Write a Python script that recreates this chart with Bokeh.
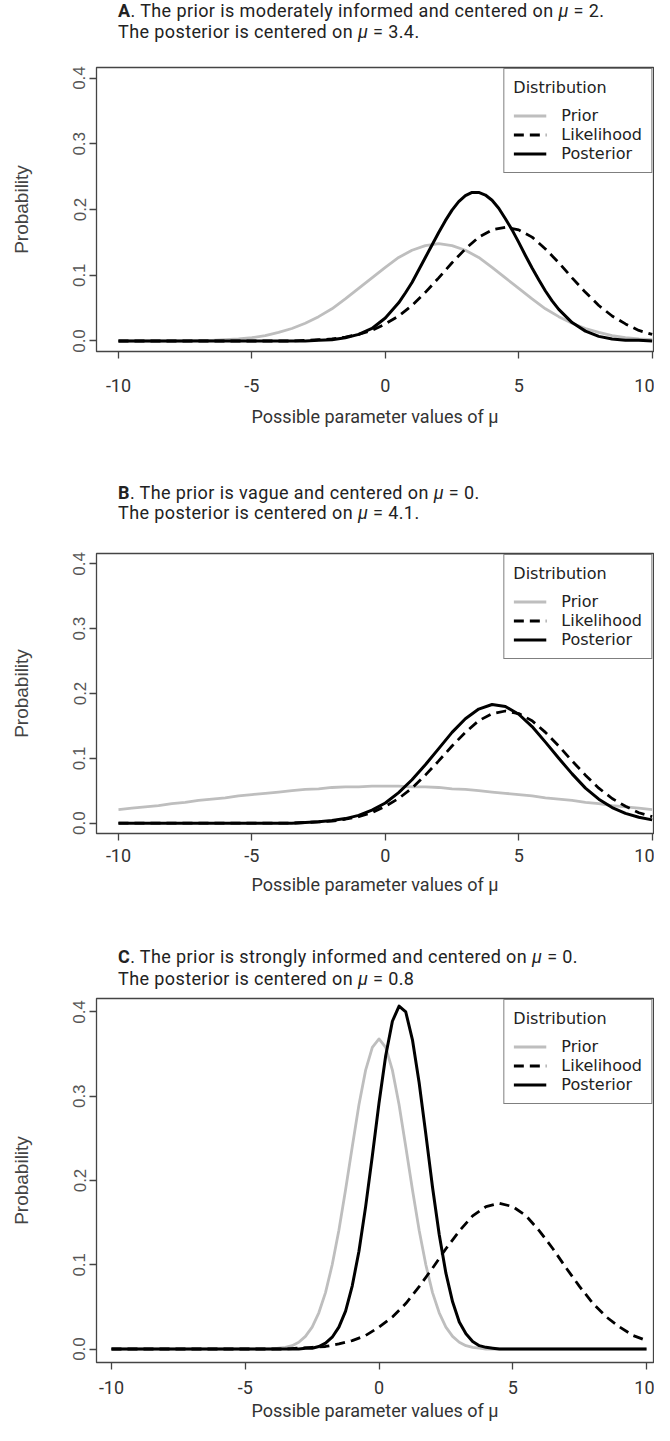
from bokeh.plotting import figure
from bokeh.models import Div, Legend, LegendItem, FixedTicker, NumeralTickFormatter, Range1d
from bokeh.layouts import column
from bokeh.embed import file_html
from bokeh.resources import INLINE

# ---------------- data ----------------
x_grid = [-10, -9.5, -9, -8.5, -8, -7.5, -7, -6.5, -6, -5.5, -5, -4.5, -4, -3.5, -3, -2.5,
          -2, -1.5, -1, -0.5, 0, 0.5, 1, 1.5, 2, 2.5, 3, 3.5, 4, 4.5, 5, 5.5, 6, 6.5, 7,
          7.5, 8, 8.5, 9, 9.5, 10]

likelihood = [0.000, 0.000, 0.000, 0.000, 0.000, 0.000, 0.000, 0.000, 0.000, 0.000, 0.000,
              0.000, 0.000, 0.000, 0.001, 0.002, 0.003, 0.006, 0.010, 0.016, 0.026, 0.038,
              0.054, 0.074, 0.096, 0.119, 0.140, 0.158, 0.169, 0.173, 0.169, 0.158, 0.140,
              0.119, 0.096, 0.074, 0.054, 0.038, 0.026, 0.016, 0.010]

prior_a = [0.000, 0.000, 0.000, 0.000, 0.000, 0.000, 0.001, 0.001, 0.002, 0.003, 0.005,
           0.008, 0.013, 0.019, 0.027, 0.037, 0.049, 0.064, 0.080, 0.096, 0.112, 0.127,
           0.138, 0.145, 0.148, 0.145, 0.138, 0.127, 0.112, 0.096, 0.080, 0.064, 0.049,
           0.037, 0.027, 0.019, 0.013, 0.008, 0.005, 0.003, 0.002]

x_post_a = [-10, -9.5, -9, -8.5, -8, -7.5, -7, -6.5, -6, -5.5, -5, -4.5, -4, -3.5, -3, -2.5,
            -2, -1.5, -1, -0.5, 0, 0.5, 0.75, 1, 1.25, 1.5, 1.75, 2, 2.25, 2.5, 2.75, 3,
            3.25, 3.5, 3.75, 4, 4.25, 4.5, 4.75, 5, 5.25, 5.5, 5.75, 6, 6.25, 6.5, 7, 7.5,
            8, 8.5, 9, 9.5, 10]
posterior_a = [0.000, 0.000, 0.000, 0.000, 0.000, 0.000, 0.000, 0.000, 0.000, 0.000, 0.000,
               0.000, 0.000, 0.000, 0.000, 0.001, 0.002, 0.005, 0.010, 0.019, 0.035, 0.058,
               0.073, 0.089, 0.108, 0.127, 0.146, 0.165, 0.183, 0.199, 0.212, 0.221, 0.226,
               0.226, 0.222, 0.214, 0.202, 0.186, 0.169, 0.150, 0.130, 0.111, 0.093, 0.076,
               0.061, 0.048, 0.028, 0.015, 0.007, 0.003, 0.001, 0.001, 0.000]

prior_b = [0.021, 0.023, 0.025, 0.027, 0.030, 0.032, 0.035, 0.037, 0.039, 0.042, 0.044,
           0.046, 0.048, 0.050, 0.052, 0.053, 0.055, 0.056, 0.056, 0.057, 0.057, 0.057,
           0.056, 0.056, 0.055, 0.053, 0.052, 0.050, 0.048, 0.046, 0.044, 0.042, 0.039,
           0.037, 0.035, 0.032, 0.030, 0.027, 0.025, 0.023, 0.021]
posterior_b = [0.000, 0.000, 0.000, 0.000, 0.000, 0.000, 0.000, 0.000, 0.000, 0.000, 0.000,
               0.000, 0.000, 0.000, 0.001, 0.002, 0.004, 0.007, 0.012, 0.020, 0.031, 0.047,
               0.067, 0.090, 0.115, 0.140, 0.161, 0.176, 0.183, 0.180, 0.168, 0.149, 0.125,
               0.100, 0.076, 0.054, 0.037, 0.024, 0.015, 0.009, 0.005]

x_fine = [-10, -9, -8, -7, -6, -5, -4, -3.75, -3.5, -3.25, -3, -2.75, -2.5, -2.25, -2, -1.75,
          -1.5, -1.25, -1, -0.75, -0.5, -0.25, 0, 0.25, 0.5, 0.75, 1, 1.25, 1.5, 1.75, 2,
          2.25, 2.5, 2.75, 3, 3.25, 3.5, 3.75, 4, 4.25, 4.5, 4.75, 5, 6, 7, 8, 9, 10]
prior_c = [0.000, 0.000, 0.000, 0.000, 0.000, 0.000, 0.000, 0.001, 0.002, 0.004, 0.008,
           0.015, 0.026, 0.043, 0.067, 0.100, 0.141, 0.189, 0.240, 0.290, 0.331, 0.358,
           0.368, 0.358, 0.331, 0.290, 0.240, 0.189, 0.141, 0.100, 0.067, 0.043, 0.026,
           0.015, 0.008, 0.004, 0.002, 0.001, 0.000, 0.000, 0.000, 0.000, 0.000, 0.000,
           0.000, 0.000, 0.000, 0.000]
posterior_c = [0.000, 0.000, 0.000, 0.000, 0.000, 0.000, 0.000, 0.000, 0.000, 0.000, 0.000,
               0.001, 0.001, 0.003, 0.007, 0.014, 0.026, 0.045, 0.075, 0.116, 0.169, 0.229,
               0.292, 0.348, 0.389, 0.407, 0.400, 0.367, 0.316, 0.255, 0.192, 0.136, 0.090,
               0.056, 0.032, 0.018, 0.009, 0.004, 0.002, 0.001, 0.000, 0.000, 0.000, 0.000,
               0.000, 0.000, 0.000, 0.000]

x_ticks = [-10, -5, 0, 5, 10]
x_tick_labels = ["-10", "-5", "0", "5", "10"]
y_ticks = [0.0, 0.1, 0.2, 0.3, 0.4]
series_names = ["Prior", "Likelihood", "Posterior"]
legend_title = "Distribution"
x_label = "Possible parameter values of μ"
y_label = "Probability"
panel_titles = [
    "<b>A</b>. The prior is moderately informed and centered on <i>μ</i> = 2.<br>The posterior is centered on <i>μ</i> = 3.4.",
    "<b>B</b>. The prior is vague and centered on <i>μ</i> = 0.<br>The posterior is centered on <i>μ</i> = 4.1.",
    "<b>C</b>. The prior is strongly informed and centered on <i>μ</i> = 0.<br>The posterior is centered on <i>μ</i> = 0.8",
]

GREY = "#bebebe"
AX = "#444444"


def title_div(html, top, left, line_h, width=540):
    return Div(
        text=f'<div style="font-family:Roboto; font-size:18px; letter-spacing:0.4px; '
             f'line-height:{line_h}px; color:#222; white-space:nowrap;">{html}</div>',
        width=width, height=2 * line_h, margin=(top, 0, 0, left),
    )


def panel(series, x_start, x_end, frame_h, b_top, b_bottom,
          xl_standoff, xa_standoff, ya_standoff):
    p = figure(frame_width=557, frame_height=frame_h,
               x_range=Range1d(x_start, x_end), y_range=Range1d(-0.016, 0.416),
               output_backend="svg", toolbar_location=None,
               min_border_left=96, min_border_right=1,
               min_border_top=b_top, min_border_bottom=b_bottom)
    p.background_fill_color = "white"
    p.border_fill_color = "white"
    p.outline_line_color = AX
    p.outline_line_width = 1.3
    p.grid.visible = False

    styles = [dict(color=GREY, line_width=2.8, line_dash="solid"),
              dict(color="black", line_width=2.8, line_dash="10 6"),
              dict(color="black", line_width=3.0, line_dash="solid")]
    items = []
    for name, (xs, ys), st in zip(series_names, series, styles):
        r = p.line(xs, ys, line_color=st["color"], line_width=st["line_width"],
                   line_dash=st["line_dash"], line_cap="butt", line_join="round")
        items.append(LegendItem(label=name, renderers=[r]))

    for ax in (p.xaxis, p.yaxis):
        ax.axis_line_color = None
        ax.major_tick_in = 0
        ax.major_tick_out = 7
        ax.major_tick_line_color = AX
        ax.major_tick_line_width = 1.3
        ax.minor_tick_line_color = None
        ax.axis_label_text_font_style = "normal"

    p.xaxis.ticker = FixedTicker(ticks=x_ticks)
    p.xaxis.major_label_overrides = dict(zip(x_ticks, x_tick_labels))
    p.xaxis.axis_label = x_label
    p.xaxis.major_label_text_font = "Roboto"
    p.xaxis.major_label_text_font_size = "18px"
    p.xaxis.major_label_text_color = "#333333"
    p.xaxis.major_label_standoff = xl_standoff
    p.xaxis.axis_label_text_font = "Roboto"
    p.xaxis.axis_label_text_font_size = "18px"
    p.xaxis.axis_label_text_color = "#333333"
    p.xaxis.axis_label_standoff = xa_standoff

    p.yaxis.ticker = FixedTicker(ticks=y_ticks)
    p.yaxis.formatter = NumeralTickFormatter(format="0.0")
    p.yaxis.major_label_orientation = "vertical"
    p.yaxis.axis_label = y_label
    p.yaxis.major_label_text_font = "Liberation Sans"
    p.yaxis.major_label_text_font_size = "17px"
    p.yaxis.major_label_text_color = "#555555"
    p.yaxis.major_label_standoff = 4
    p.yaxis.axis_label_text_font = "Liberation Sans"
    p.yaxis.axis_label_text_font_size = "19px"
    p.yaxis.axis_label_text_color = "#444444"
    p.yaxis.axis_label_standoff = ya_standoff

    legend = Legend(items=items, location="top_right", title=legend_title)
    legend.title_text_font = "DejaVu Sans"
    legend.title_text_font_style = "normal"
    legend.title_text_font_size = "16px"
    legend.title_text_color = "#222222"
    legend.label_text_font = "DejaVu Sans"
    legend.label_text_font_size = "16px"
    legend.label_text_color = "#222222"
    legend.border_line_color = "black"
    legend.border_line_width = 1
    legend.background_fill_alpha = 1
    legend.padding = 9
    legend.spacing = 0
    legend.label_height = 17
    legend.glyph_height = 17
    legend.glyph_width = 33
    legend.label_standoff = 15
    legend.title_standoff = 9
    legend.margin = 1
    p.add_layout(legend)
    return p


div_a = title_div(panel_titles[0], 0, 118, 21)
fig_a = panel([(x_grid, prior_a), (x_grid, likelihood), (x_post_a, posterior_a)],
              -10.824, 10.05, 284, 25, 80, 20, 11, 39)
div_b = title_div(panel_titles[1], 52, 118, 20)
fig_b = panel([(x_grid, prior_b), (x_grid, likelihood), (x_grid, posterior_b)],
              -10.824, 10.05, 280, 30, 66, 8, 9, 39)
div_c = title_div(panel_titles[2], 47, 118, 22)
fig_c = panel([(x_fine, prior_c), (x_grid, likelihood), (x_fine, posterior_c)],
              -10.56, 10.26, 364, 8, 63, 11, 3, 39)

layout = column(div_a, fig_a, div_b, fig_b, div_c, fig_c, spacing=0)

open("out.html", "w").write(file_html(layout, INLINE))
